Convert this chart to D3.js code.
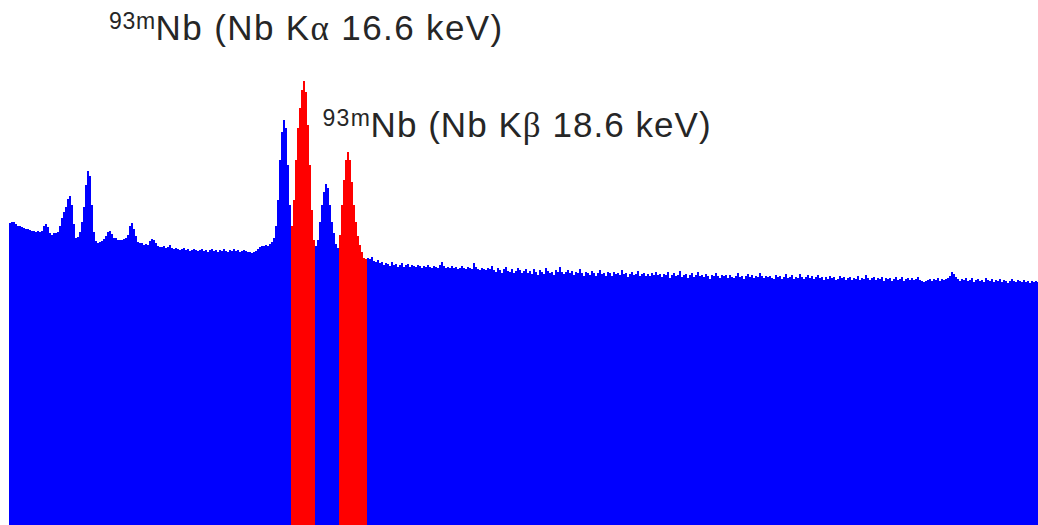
<!DOCTYPE html>
<html>
<head>
<meta charset="utf-8">
<script src="https://cdn.jsdelivr.net/npm/d3@7"></script>
<style>
html,body{margin:0;padding:0;background:#fff;overflow:hidden;}
svg{display:block;}
</style>
</head>
<body>
<svg id="chart" width="1038" height="525"></svg>
<script>
// Energy calibration of the spectrum (keV)
const startEnergy = 3.2364;
const channelWidth = 1 / 11;

// Counts per channel (arbitrary units)
const counts = [
302,303,303,301,299,299,298,297,296,296,295,294,294,293,294,293,294,299,301,298,
292,290,292,292,293,299,307,313,318,326,329,320,301,287,288,293,303,318,340,354,
349,320,293,284,282,283,284,286,289,293,294,291,287,287,285,285,285,286,287,290,
299,302,296,289,283,282,282,280,281,280,284,286,285,282,279,278,278,279,277,278,
280,277,276,277,276,275,276,277,275,276,274,275,276,275,274,275,276,274,275,273,
275,276,274,275,273,275,274,276,274,273,275,274,276,274,275,273,274,275,274,273,
273,272,273,274,276,278,279,279,280,279,281,283,287,299,325,365,393,405,397,360,
320,299,325,365,397,417,435,444,433,400,360,315,285,279,285,303,320,333,341,337,
320,303,292,281,277,290,320,345,365,373,365,343,320,303,289,280,273,267,266,267,
266,268,264,263,265,262,263,260,262,261,259,263,260,261,258,260,262,258,260,261,
258,260,259,258,260,259,257,259,258,260,258,257,259,258,257,260,263,259,257,258,
257,259,257,258,256,257,259,257,256,258,257,256,262,258,256,255,257,256,255,257,
256,259,255,253,257,255,252,256,258,254,253,256,252,254,257,255,252,254,256,252,
254,251,256,253,250,255,253,251,257,254,252,253,250,255,253,258,253,251,253,255,
252,254,250,253,252,256,252,249,253,252,250,254,252,249,252,255,251,252,249,253,
252,249,253,251,252,250,255,251,252,248,251,253,250,251,254,249,251,252,249,251,
249,252,250,253,250,251,248,251,250,253,247,250,252,249,250,254,248,250,251,247,
250,252,248,250,253,249,250,248,251,249,246,250,249,252,249,247,250,249,250,247,
250,248,247,249,252,248,249,246,249,251,248,250,247,249,248,252,249,247,249,248,
249,247,246,250,248,249,246,248,251,247,248,250,246,248,247,251,248,246,248,250,
247,249,246,248,250,247,248,245,248,246,249,247,248,245,246,249,247,248,245,247,
248,245,247,246,249,245,247,246,250,247,245,247,248,245,247,246,248,244,247,246,
247,244,246,248,245,246,248,244,246,247,245,247,245,246,248,245,244,243,244,245,
246,244,246,245,247,244,246,245,246,247,249,253,251,248,246,244,246,245,247,244,
245,247,243,245,246,244,245,243,247,245,244,246,243,245,244,246,243,245,244,242,
244,246,244,243,245,244,243,245,243,244,242,244,243,244,243
];

// Regions of interest (keV) highlighted in red
const roiStart = [16.05, 18.23];
const roiEnd = [17.15, 19.51];

// Peak labels
const labelIsotope = ["93m", "93m"];
const labelMain = ["Nb (Nb K", "Nb (Nb K"];
const labelGreek = ["\u03B1", "\u03B2"];
const labelEnergy = [" 16.6 keV)", " 18.6 keV)"];

const W = 1038, H = 525;
const svg = d3.select("#chart");
svg.append("rect").attr("width", W).attr("height", H).attr("fill", "#fff");

const nCh = counts.length;
const endEnergy = startEnergy + nCh * channelWidth;

const x = d3.scaleLinear().domain([startEnergy, endEnergy]).range([9, 9 + nCh * 2]);
const y = d3.scaleLinear().domain([0, 525]).range([H, 0]);

const pts = counts.map((c, i) => ({e: startEnergy + i * channelWidth, c}));
const withEnd = arr => arr.concat([{e: arr[arr.length - 1].e + channelWidth, c: arr[arr.length - 1].c}]);

const area = d3.area()
  .curve(d3.curveStepAfter)
  .x(d => x(d.e))
  .y0(y(0))
  .y1(d => y(d.c));

svg.append("path")
  .datum(withEnd(pts))
  .attr("fill", "#0000ff")
  .attr("d", area);

roiStart.forEach((s, k) => {
  const sel = pts.filter(p => p.e >= s - 0.001 && p.e + channelWidth <= roiEnd[k] + 0.001);
  svg.append("path")
    .datum(withEnd(sel))
    .attr("fill", "#ff0000")
    .attr("d", area);
});

// label layout: [superscript x, superscript baseline, superscript width, main x, main baseline, main width]
const labelLayout = [
  [109, 29, 47, 155.6, 40, 348],
  [322.4, 126, 49, 370.6, 137, 341]
];
function fitSpacing(node, target) {
  const nat = node.getComputedTextLength();
  const n = node.textContent.length;
  d3.select(node).attr("letter-spacing", ((target - nat) / n).toFixed(3));
}
labelLayout.forEach((L, k) => {
  const sup = svg.append("text")
    .attr("x", L[0]).attr("y", L[1])
    .attr("fill", "#262626")
    .attr("font-family", "Liberation Sans, Arial, sans-serif")
    .attr("font-size", 23)
    .text(labelIsotope[k]);
  fitSpacing(sup.node(), L[2]);
  const t = svg.append("text")
    .attr("x", L[3]).attr("y", L[4])
    .attr("fill", "#262626")
    .attr("font-family", "Liberation Sans, Arial, sans-serif")
    .attr("font-size", 35);
  t.append("tspan").text(labelMain[k]);
  t.append("tspan").attr("font-family", "Liberation Serif, serif").text(labelGreek[k]);
  t.append("tspan").text(labelEnergy[k]);
  fitSpacing(t.node(), L[5]);
});
</script>
</body>
</html>
